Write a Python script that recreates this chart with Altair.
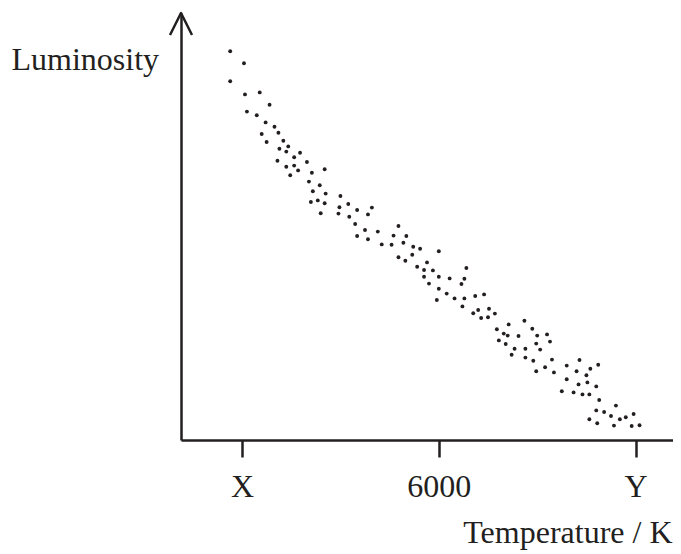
import altair as alt
import pandas as pd

# Temperature (K) of each star
temperature = [
    3880, 4020, 3880, 4030, 4180, 4280, 4050, 4150, 4240, 4330,
    4200, 4370, 4250, 4420, 4470, 4380, 4450, 4590, 4530, 4360,
    4660, 4450, 4530, 4570, 4490, 4710, 4840, 4680, 4790, 4720,
    4850, 5000, 4700, 4770, 4840, 4990, 5080, 5170, 5320, 5280,
    4800, 4980, 5090, 5150, 5250, 5380, 5170, 5280, 5420, 5590,
    5540, 5670, 5520, 5640, 5740, 5810, 6000, 5590, 5660, 5730,
    5780, 5880, 5850, 5940, 6280, 5850, 6000, 6110, 6260, 5900,
    6230, 6000, 6080, 6160, 6260, 6370, 6460, 5980, 6240, 6400,
    6510, 6350, 6570, 6430, 6500, 6710, 6870, 6590, 6660, 6700,
    6810, 6950, 7000, 7100, 6610, 6680, 6990, 7130, 6770, 6880,
    7030, 6740, 6880, 6960, 7150, 7080, 7170, 6990, 7300, 7430,
    7620, 7540, 7400, 7500, 7300, 7420, 7510, 7600, 7250, 7370,
    7460, 7530, 7630, 7800, 7600, 7680, 7750, 7840, 7900, 7980,
    7530, 7610, 7780, 7960, 8040,
]

# Luminosity (arbitrary units) of each star
luminosity = [
    97.2, 94.2, 89.7, 86.4, 86.9, 83.8, 82.1, 81.2, 79.4, 78.3,
    76.5, 76.8, 74.5, 74.8, 73.4, 72.8, 72.1, 71.8, 70.7, 69.8,
    69.5, 68.3, 68.6, 67.4, 66.2, 66.8, 67.7, 64.6, 63.7, 62.2,
    61.6, 61.0, 59.5, 59.9, 59.2, 58.2, 59.0, 57.5, 58.1, 56.4,
    56.7, 56.6, 55.8, 54.0, 52.5, 52.1, 51.0, 50.2, 48.9, 53.5,
    51.1, 51.0, 48.8, 49.3, 48.3, 47.8, 47.2, 45.7, 44.8, 46.3,
    43.3, 44.4, 42.5, 42.4, 43.0, 40.8, 40.8, 40.4, 40.3, 39.1,
    39.0, 37.8, 36.6, 35.4, 35.4, 36.0, 36.4, 35.0, 33.4, 32.5,
    32.8, 31.7, 31.6, 30.5, 30.7, 28.9, 29.8, 27.7, 26.6, 26.1,
    26.0, 27.8, 26.1, 26.4, 24.9, 24.0, 24.1, 24.6, 22.8, 22.8,
    22.6, 21.3, 20.6, 19.8, 20.1, 18.2, 16.9, 17.2, 18.6, 20.0,
    18.8, 17.8, 17.2, 16.2, 15.2, 13.9, 14.4, 13.4, 12.2, 11.9,
    11.4, 11.4, 10.0, 8.6, 7.4, 7.0, 6.0, 5.2, 5.7, 6.5,
    5.2, 4.2, 3.6, 3.5, 3.7,
]

x_tick_values = [4000, 6000, 8000]
x_tick_labels = ["X", "6000", "Y"]
x_domain = [3380, 8380]
y_domain = [0, 106.75]

ink = "#231f20"
font = "Liberation Serif"

stars = pd.DataFrame({"temperature": temperature, "luminosity": luminosity})
arrow = pd.DataFrame({"temperature": [x_domain[0]], "luminosity": [y_domain[1]]})

label_expr = " : ".join(
    f"datum.value == {v} ? '{t}'" for v, t in zip(x_tick_values[:-1], x_tick_labels[:-1])
) + f" : '{x_tick_labels[-1]}'"

x_scale = alt.Scale(domain=x_domain, nice=False, zero=False)
y_scale = alt.Scale(domain=y_domain, nice=False, zero=False)

x_enc = alt.X(
    "temperature:Q",
    scale=x_scale,
    axis=alt.Axis(
        values=x_tick_values,
        labelExpr=label_expr,
        tickSize=17,
        labelPadding=39,
        labelBaseline="alphabetic",
        labelFlush=False,
        labelOverlap=False,
        title="Temperature / K",
        titleX=491,
        titleY=102,
        titleAlign="right",
        titleBaseline="alphabetic",
    ),
)
y_enc = alt.Y(
    "luminosity:Q",
    scale=y_scale,
    axis=alt.Axis(
        ticks=False,
        labels=False,
        title="Luminosity",
        titleAngle=0,
        titleX=-170,
        titleY=56,
        titleAlign="left",
        titleBaseline="alphabetic",
    ),
)

points = alt.Chart(stars).mark_circle(size=15, color=ink, opacity=1).encode(x=x_enc, y=y_enc)

arrow_head = alt.Chart(arrow).mark_point(
    shape="M-1,2L0,0L1,2",
    size=484,
    filled=False,
    strokeWidth=2.5,
    strokeJoin="round",
    color=ink,
    opacity=1,
).encode(
    x=alt.X("temperature:Q", scale=x_scale),
    y=alt.Y("luminosity:Q", scale=y_scale),
)

chart = (
    alt.layer(points, arrow_head)
    .properties(
        width=492,
        height=427,
        padding={"left": 173, "top": 5, "right": 0, "bottom": 112},
        autosize=alt.AutoSizeParams(type="none"),
        background="white",
    )
    .configure_view(stroke=None)
    .configure_axis(
        grid=False,
        domainColor=ink,
        domainWidth=2.5,
        tickColor=ink,
        tickWidth=2.5,
        labelFont=font,
        labelFontSize=32,
        labelColor=ink,
        titleFont=font,
        titleFontSize=32,
        titleColor=ink,
        titleFontWeight="normal",
    )
)

chart.save("out.html", embed_options={"renderer": "svg", "actions": False})
